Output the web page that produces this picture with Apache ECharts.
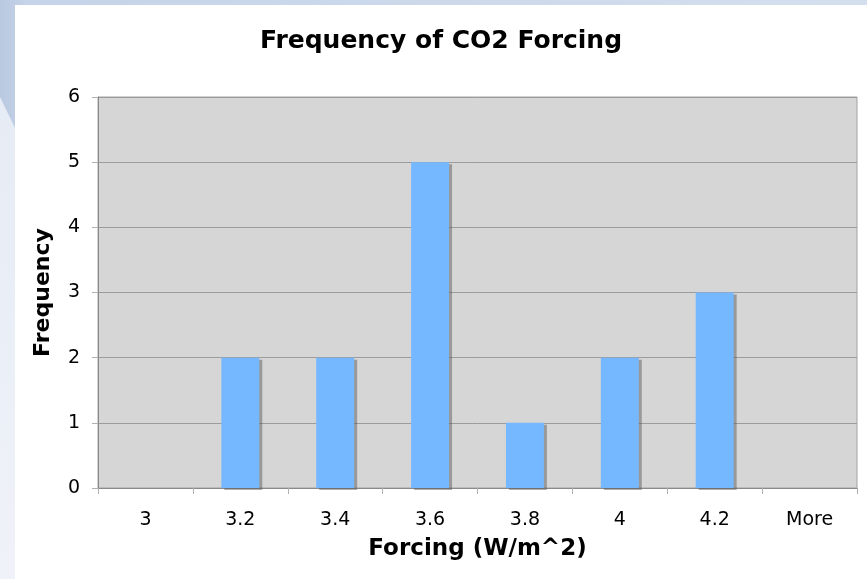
<!DOCTYPE html>
<html>
<head>
<meta charset="utf-8">
<script src="https://cdn.jsdelivr.net/npm/echarts@6/dist/echarts.min.js"></script>
<style>
html,body{margin:0;padding:0;background:#fff;}
#c{width:867px;height:579px;}
</style>
</head>
<body>
<div id="c"></div>
<script>
const categories = ['3', '3.2', '3.4', '3.6', '3.8', '4', '4.2', 'More'];
const frequency = [0, 2, 2, 5, 1, 2, 3, 0];
const yTicks = [0, 1, 2, 3, 4, 5, 6];
const titleText = 'Frequency of CO2 Forcing';
const xName = 'Forcing (W/m^2)';
const yName = 'Frequency';

const FONT = 'DejaVu Sans';
const chart = echarts.init(document.getElementById('c'));
chart.setOption({
  animation: false,
  backgroundColor: 'transparent',
  graphic: [
    { type: 'rect', z: -10, shape: { x: 0, y: 0, width: 867, height: 579 },
      style: { fill: new echarts.graphic.LinearGradient(0, 0, 0, 1, [
        { offset: 0, color: '#e4eaf4' }, { offset: 1, color: '#eff2f8' }]) } },
    { type: 'polygon', z: -9, shape: { points: [[0,0],[867,0],[867,5],[15,5],[15,128],[0,97]] },
      style: { fill: new echarts.graphic.LinearGradient(0, 0, 1, 0, [
        { offset: 0, color: '#b9c9e1' }, { offset: 0.03, color: '#c6d3e8' }, { offset: 1, color: '#d4dfee' }]) } },
    { type: 'rect', z: -8, shape: { x: 15, y: 5, width: 852, height: 574 }, style: { fill: '#ffffff' } }
  ],
  title: {
    text: titleText, left: 436, top: 24, textAlign: 'center',
    textStyle: { fontFamily: FONT, fontWeight: 'bold', fontSize: 25, color: '#000' }
  },
  grid: {
    left: 98, right: 10, top: 97, bottom: 91,
    show: true, backgroundColor: '#d6d6d6', borderColor: '#a3a3a3', borderWidth: 1
  },
  xAxis: {
    type: 'category', data: categories,
    name: xName, nameLocation: 'middle', nameGap: 50,
    nameTextStyle: { fontFamily: FONT, fontWeight: 'bold', fontSize: 23, color: '#000' },
    axisLine: { lineStyle: { color: '#8a8a8a', width: 1 } },
    axisTick: { show: true, alignWithLabel: false, length: 6, lineStyle: { color: '#b0b0b0' } },
    axisLabel: { fontFamily: FONT, fontSize: 19, color: '#000', margin: 23 }
  },
  yAxis: {
    type: 'value', min: 0, max: 6, interval: 1,
    name: yName, nameLocation: 'middle', nameGap: 44, nameRotate: 90,
    nameTextStyle: { fontFamily: FONT, fontWeight: 'bold', fontSize: 22, color: '#000' },
    axisLine: { show: true, lineStyle: { color: '#8a8a8a', width: 1 } },
    axisTick: { show: true, length: 6, lineStyle: { color: '#b0b0b0' } },
    axisLabel: { fontFamily: FONT, fontSize: 19, color: '#000', margin: 18,
      formatter: v => yTicks.includes(v) ? String(v) : '' },
    splitLine: { lineStyle: { color: '#9c9c9c', width: 1 } }
  },
  series: [{
    type: 'bar', data: frequency, barCategoryGap: '60%',
    itemStyle: { color: '#75b8ff', shadowColor: 'rgba(80,80,80,0.45)', shadowOffsetX: 3, shadowOffsetY: 2, shadowBlur: 0 }
  }]
});
</script>
</body>
</html>
